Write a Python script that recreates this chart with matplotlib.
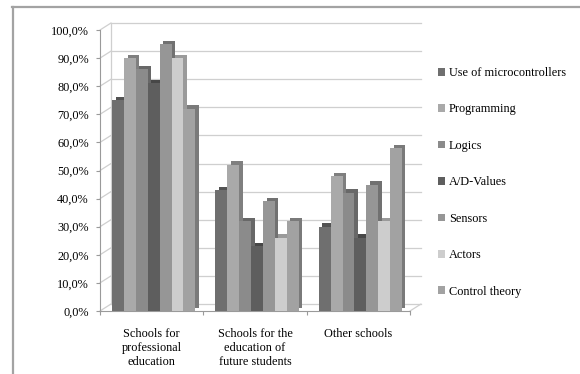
import numpy as np
import matplotlib.pyplot as plt
from matplotlib.transforms import ScaledTranslation
from matplotlib.lines import Line2D
from matplotlib.patches import Patch

schools = ['Schools for\nprofessional\neducation',
           'Schools for the\neducation of\nfuture students',
           'Other schools']
topics = ['Use of microcontrollers', 'Programming', 'Logics', 'A/D-Values',
          'Sensors', 'Actors', 'Control theory']

# share of schools (%) per topic, one value per school type
microcontrollers = [75, 43, 30]
programming = [90, 52, 48]
logics = [86, 32, 42]
ad_values = [81, 23, 26]
sensors = [95, 39, 45]
actors = [90, 26, 32]
control_theory = [72, 32, 58]

series = [microcontrollers, programming, logics, ad_values, sensors, actors, control_theory]
colors = ['#6f6f6f', '#a9a9a9', '#8b8b8b', '#5e5e5e', '#969696', '#cdcdcd', '#a2a2a2']

plt.rcParams['font.family'] = 'Liberation Serif'
fs = 8.8

fig = plt.figure(figsize=(5.8, 3.74), dpi=100)
ax = fig.add_axes([100/580, 63/374, 310/580, 281/374])
ax.set_xlim(0, 3)
ax.set_ylim(0, 100)

# pseudo 3d offsets (back wall and bar depth)
wall = ax.transData + ScaledTranslation(11/100, 7/100, fig.dpi_scale_trans)
depth = ax.transData + ScaledTranslation(3.5/100, 3.5/100, fig.dpi_scale_trans)

grid_c = '#cfcfcf'
for v in range(0, 101, 10):
    ax.plot([0, 3], [v, v], transform=wall, color=grid_c, lw=0.9, zorder=1, clip_on=False)
    ax.annotate('', xy=(0, v), xytext=(11*0.72, 7*0.72), textcoords='offset points',
                arrowprops=dict(arrowstyle='-', color=grid_c, lw=0.9, shrinkA=0, shrinkB=0),
                annotation_clip=False, zorder=1)
ax.plot([0, 0], [0, 100], transform=wall, color=grid_c, lw=0.9, zorder=1, clip_on=False)
ax.annotate('', xy=(3, 0), xytext=(11*0.72, 7*0.72), textcoords='offset points',
            arrowprops=dict(arrowstyle='-', color=grid_c, lw=0.9, shrinkA=0, shrinkB=0),
            annotation_clip=False, zorder=1)

x = np.arange(len(schools)) + 0.5
w = 0.115
for k, (vals, c) in enumerate(zip(series, colors)):
    pos = x + (k - 3) * w + 0.02
    rgb = np.array(plt.matplotlib.colors.to_rgb(c)) * 0.75
    ax.bar(pos, vals, w, color=rgb, lw=0, transform=depth, zorder=2 + 2*k, clip_on=False)
    ax.bar(pos, vals, w, color=c, lw=0, zorder=3 + 2*k, clip_on=False)

for s in ['top', 'right']:
    ax.spines[s].set_visible(False)
for s in ['left', 'bottom']:
    ax.spines[s].set_color('#9a9a9a')
    ax.spines[s].set_linewidth(0.8)

yt = list(range(0, 101, 10))
ax.set_yticks(yt)
ax.set_yticklabels([('%.1f%%' % v).replace('.', ',') for v in yt])
ax.set_xticks([0, 1, 2, 3])
ax.set_xticklabels([])
ax.set_xticks(x, minor=True)
ax.set_xticklabels(schools, minor=True)
ax.tick_params(axis='both', which='major', direction='out', length=3, color='#9a9a9a',
               labelsize=fs, pad=5)
ax.tick_params(axis='x', which='minor', length=0, labelsize=fs, pad=12.5)

handles = [Patch(facecolor=c, edgecolor='none') for c in colors]
fig.legend(handles, topics, loc='upper left', bbox_to_anchor=(438/580, 1 - 67/374),
           frameon=False, fontsize=fs, handlelength=0.6, handleheight=0.6,
           handletextpad=0.3, labelspacing=2.0, borderpad=0, borderaxespad=0)

# outer chart frame
fig.add_artist(Line2D([12/580, 1], [1 - 7/374, 1 - 7/374], color='#a3a3a3', lw=1.6))
fig.add_artist(Line2D([12.5/580, 12.5/580], [0, 1 - 7/374], color='#a3a3a3', lw=1.6))

fig.savefig('out.png', dpi=100)
